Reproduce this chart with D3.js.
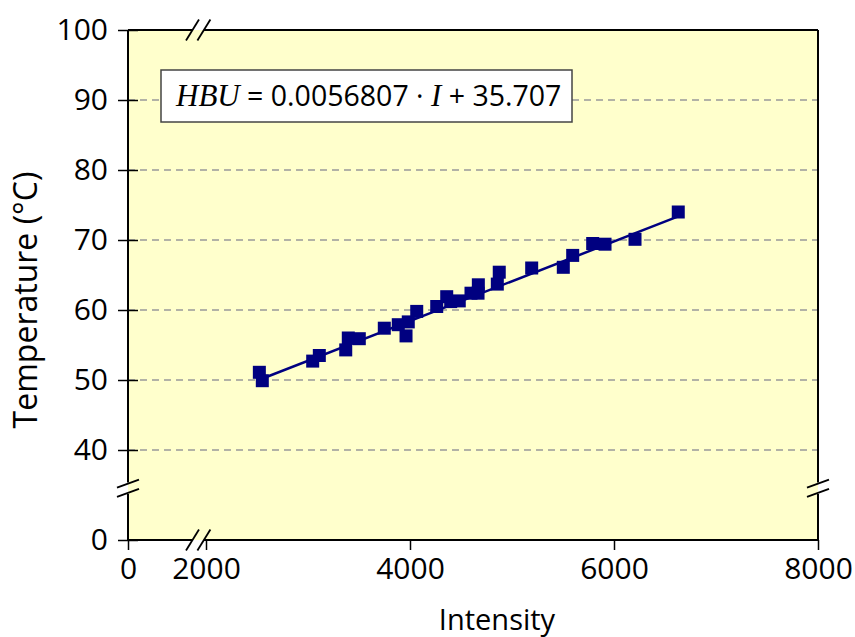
<!DOCTYPE html>
<html>
<head>
<meta charset="utf-8">
<script src="https://cdn.jsdelivr.net/npm/d3@7"></script>
<style>
  body { margin: 0; background: #fff; }
  text { font-family: "Open Sans", sans-serif; fill: #000; }
</style>
</head>
<body>
<svg width="855" height="637"></svg>
<script>
// axis ticks (broken axes: 0 | 2000..8000 and 0 | 40..100)
const xTicks = [0, 2000, 4000, 6000, 8000];
const yTicks = [0, 40, 50, 60, 70, 80, 90, 100];
const gridValues = [40, 50, 60, 70, 80, 90];

// measured points
const intensity = [2523, 2552, 3046, 3111, 3370, 3395, 3503, 3748, 3885, 3961,
    3983, 4066, 4262, 4360, 4399, 4483, 4598, 4667, 4670, 4856,
    4875, 5193, 5503, 5595, 5791, 5912, 6206, 6630];
const temperature = [51.1, 49.9, 52.7, 53.5, 54.3, 56.0, 55.9, 57.4, 57.9, 56.3,
    58.3, 59.8, 60.5, 61.9, 61.2, 61.3, 62.4, 62.4, 63.6, 63.7,
    65.4, 66.0, 66.1, 67.8, 69.5, 69.4, 70.1, 74.0];

// fitted line HBU = a * I + b
const slope = 0.0056807;
const intercept = 35.707;

const xBreak = 1800;
const yBreak = 23;

const svg = d3.select("svg");
const w = 690, h = 510;
const g = svg.append("g").attr("transform", "translate(128,30)");

// piecewise scales give the squeezed part before the break
const x = d3.scaleLinear().domain([0, 2000, 8000]).range([0, 78, w]);
const y = d3.scaleLinear().domain([0, 40, 100]).range([h, 420, 0]);

g.append("rect").attr("width", w).attr("height", h).attr("fill", "#ffffcc");

// dashed grid
g.selectAll(".grid").data(gridValues).enter()
    .append("line")
    .attr("x1", 0).attr("x2", w)
    .attr("y1", d => y(d)).attr("y2", d => y(d))
    .attr("stroke", "#999").attr("stroke-width", 1.5)
    .attr("stroke-dasharray", "7,5");

// regression line over the data range
const xr = d3.extent(intensity);
g.append("line")
    .attr("x1", x(xr[0])).attr("y1", y(slope * xr[0] + intercept))
    .attr("x2", x(xr[1])).attr("y2", y(slope * xr[1] + intercept))
    .attr("stroke", "#000080").attr("stroke-width", 2.5);

g.selectAll(".pt").data(intensity).enter()
    .append("rect")
    .attr("x", (d, i) => x(d) - 6.5)
    .attr("y", (d, i) => y(temperature[i]) - 6.5)
    .attr("width", 13).attr("height", 13)
    .attr("fill", "#000080");

// axes
let leftAxis = d3.axisLeft(y).tickValues(yTicks).tickSize(10).tickPadding(10);
let ax = g.append("g").call(leftAxis);
ax.select(".domain").remove();
ax.selectAll(".tick line").attr("x1", 10).attr("stroke", "#000").attr("stroke-width", 1.5);
ax.selectAll(".tick text").style("font-size", "30px");

let bottomAxis = d3.axisBottom(x).tickValues(xTicks).tickFormat(d3.format("d")).tickSize(10).tickPadding(8);
let bx = g.append("g").attr("transform", "translate(0," + h + ")").call(bottomAxis);
bx.select(".domain").remove();
bx.selectAll(".tick line").attr("stroke", "#000").attr("stroke-width", 1.5);
bx.selectAll(".tick text").style("font-size", "30px");

// frame lines with gaps at the breaks
const gap = 5.7;
const by = y(yBreak), bxp = x(xBreak);
const frame = [
    [0, 0, 0, by - gap], [0, by + gap, 0, h],
    [w, 0, w, by - gap], [w, by + gap, w, h],
    [0, h, bxp - gap, h], [bxp + gap, h, w, h],
    [0, 0, bxp - gap, 0], [bxp + gap, 0, w, 0]
];
g.selectAll(".frame").data(frame).enter()
    .append("line")
    .attr("x1", d => d[0]).attr("y1", d => d[1])
    .attr("x2", d => d[2]).attr("y2", d => d[3])
    .attr("stroke", "#000").attr("stroke-width", 2);

// break marks
const vMarks = [];
[0, w].forEach(cx => [-4.7, 4.7].forEach(o => vMarks.push([cx - 11, by + o + 4, cx + 11, by + o - 4])));
[0, h].forEach(cy => [-5.7, 5.7].forEach(o => vMarks.push([bxp + o - 6.5, cy + 10.5, bxp + o + 6.5, cy - 10.5])));
g.selectAll(".brk").data(vMarks).enter()
    .append("line")
    .attr("x1", d => d[0]).attr("y1", d => d[1])
    .attr("x2", d => d[2]).attr("y2", d => d[3])
    .attr("stroke", "#000").attr("stroke-width", 1.8);

// equation box
g.append("rect").attr("x", 33).attr("y", 40).attr("width", 411).attr("height", 52)
    .attr("fill", "#fff").attr("stroke", "#444").attr("stroke-width", 1.5);
let eq = g.append("text").attr("x", 48).attr("y", 76).style("font-size", "28.5px");
eq.append("tspan").text("HBU").style("font-family", "'Liberation Serif', serif").style("font-style", "italic").style("font-size", "31px");
eq.append("tspan").text(" = " + slope.toFixed(7) + " · ");
eq.append("tspan").text("I").style("font-family", "'Liberation Serif', serif").style("font-style", "italic").style("font-size", "31px");
eq.append("tspan").text(" + " + intercept);

// axis titles
svg.append("text").attr("x", 497).attr("y", 630).attr("text-anchor", "middle")
    .style("font-size", "29px").text("Intensity");
svg.append("text").attr("transform", "translate(37,300) rotate(-90)").attr("text-anchor", "middle")
    .style("font-size", "32px").text("Temperature (°C)");
</script>
</body>
</html>
